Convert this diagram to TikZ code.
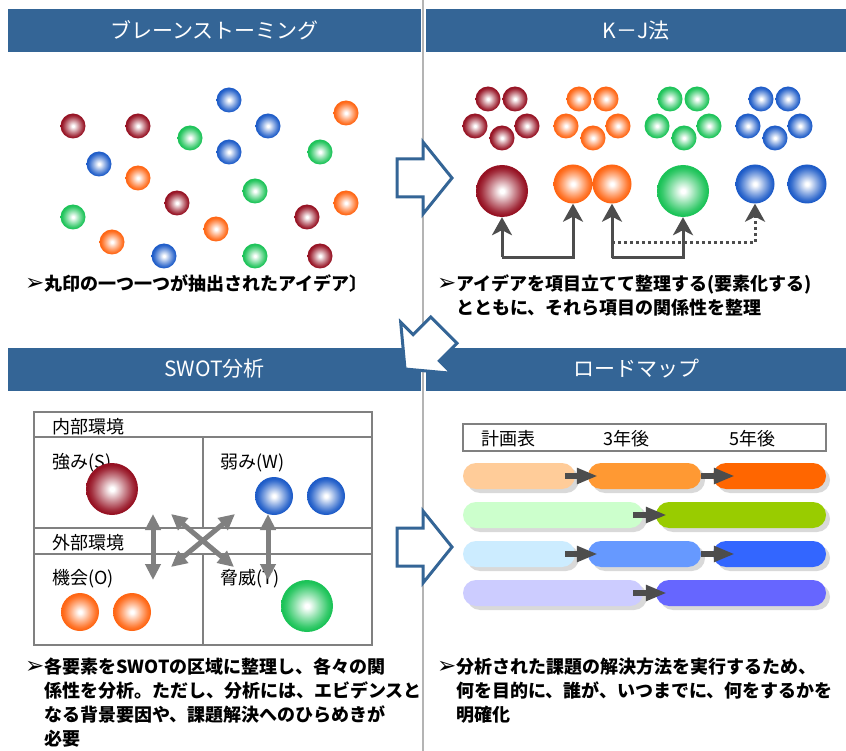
\documentclass[tikz,border=0pt]{standalone}
\usepackage{fontspec}
\newfontfamily\jp{Noto Sans CJK JP}
\newfontfamily\dv{DejaVu Sans}
\usetikzlibrary{arrows.meta,shadows}
\definecolor{hdrblue}{RGB}{52,101,150}
\definecolor{cred}{RGB}{150,18,35}
\definecolor{corange}{RGB}{255,102,20}
\definecolor{cgreen}{RGB}{28,195,88}
\definecolor{cblue}{RGB}{30,92,200}
\definecolor{darkarr}{RGB}{77,77,77}
\definecolor{midgray}{RGB}{128,128,128}
\definecolor{divgray}{RGB}{180,180,180}
\definecolor{rmpeach}{RGB}{255,204,153}
\definecolor{rmorange}{RGB}{255,153,51}
\definecolor{rmdorange}{RGB}{255,102,0}
\definecolor{rmlgreen}{RGB}{204,255,204}
\definecolor{rmgreen}{RGB}{153,204,0}
\definecolor{rmlblue}{RGB}{204,236,255}
\definecolor{rmblue}{RGB}{102,153,255}
\definecolor{rmdblue}{RGB}{51,102,255}
\definecolor{rmlviolet}{RGB}{204,204,255}
\definecolor{rmviolet}{RGB}{102,102,255}
\pgfdeclareradialshading{ballred}{\pgfpoint{0bp}{0bp}}{color(0bp)=(white); color(2bp)=(white); color(12bp)=(cred!50!white); color(20bp)=(cred!88!white); color(23.5bp)=(cred); color(100bp)=(cred)}
\pgfdeclareradialshading{ballorange}{\pgfpoint{0bp}{0bp}}{color(0bp)=(white); color(2bp)=(white); color(12bp)=(corange!50!white); color(20bp)=(corange!88!white); color(23.5bp)=(corange); color(100bp)=(corange)}
\pgfdeclareradialshading{ballgreen}{\pgfpoint{0bp}{0bp}}{color(0bp)=(white); color(2bp)=(white); color(12bp)=(cgreen!50!white); color(20bp)=(cgreen!88!white); color(23.5bp)=(cgreen); color(100bp)=(cgreen)}
\pgfdeclareradialshading{ballblue}{\pgfpoint{0bp}{0bp}}{color(0bp)=(white); color(2bp)=(white); color(12bp)=(cblue!50!white); color(20bp)=(cblue!88!white); color(23.5bp)=(cblue); color(100bp)=(cblue)}
\begin{document}
\begin{tikzpicture}[x=1pt,y=-1pt,
  ball/.style={circle, inner sep=0pt, shade, shading=ball#1},
  hdrbar/.style={fill=hdrblue, inner sep=0pt, minimum height=43pt, text=white, font=\jp\fontsize{21}{24}\selectfont},
  blockarrow/.style={draw=hdrblue, fill=white, line width=3pt, line join=miter},
  divider/.style={draw=divgray, line width=2.5pt},
  kjline/.style={draw=darkarr, line width=3pt},
  kjtip/.style={-{Stealth[length=18pt,width=20pt,inset=5pt]}},
  kjdots/.style={dash pattern=on 3pt off 3pt},
  tabline/.style={draw=midgray, line width=2pt},
  swarrow/.style={draw=midgray, line width=5pt, {Triangle[length=16pt,width=15pt]}-{Triangle[length=16pt,width=15pt]}},
  lbl/.style={inner sep=0pt, anchor=west, font=\jp\fontsize{18}{22}\selectfont},
  rmlbl/.style={inner sep=0pt, font=\jp\fontsize{18}{22}\selectfont},
  rmbar/.style={rectangle, rounded corners=13pt, minimum height=26pt, inner sep=0pt, general shadow={fill=black!15, shadow xshift=4pt, shadow yshift=-4pt}},
  rmarrow/.style={draw=darkarr, line width=6pt, -{Triangle[length=21pt,width=15pt]}},
  captext/.style={inner sep=0pt, anchor=base west, font=\jp\bfseries\fontsize{18}{24}\selectfont},
  capmark/.style={inner sep=0pt, anchor=base west, font=\dv\fontsize{23}{24}\selectfont}
]
\useasboundingbox[fill=white] (0,0) rectangle (846,751);

% divider
\draw[divider] (423,0) -- (423,751);

% header bars
\node[hdrbar, minimum width=413pt] (hb1) at (214.5,30.5) {ブレーンストーミング};
\node[hdrbar, minimum width=420pt] (hb2) at (636,30.5) {K－J法};
\node[hdrbar, minimum width=413pt] (hb3) at (214.5,369) {SWOT分析};
\node[hdrbar, minimum width=420pt] (hb4) at (636,369) {ロードマップ};

% brainstorming balls
\foreach \x/\y/\c [count=\i] in {73/126/red,138/126/red,190/138/green,229/100/blue,268/126/blue,346/113/orange,229/152/blue,99/164/blue,138/178/orange,320/152/green,255/191/green,177/203/red,73/217/green,346/203/orange,307/217/red,216/229/orange,112/242/orange,164/256/blue,255/256/green,320/256/red}
  \node[ball=\c, minimum size=25pt] (bs\i) at (\x,\y) {};

% K-J small balls
\foreach \dx/\c [count=\j] in {0/red,91/orange,182/green,273/blue}{
  \foreach \x/\y [count=\i] in {488/99,515/99,475/126,527/126,502/138}
    \node[ball=\c, minimum size=25pt] (ks\j\i) at (\x+\dx,\y) {};
}
% K-J big balls
\node[ball=red, minimum size=52pt] (kr) at (502,191) {};
\node[ball=orange, minimum size=39pt] (ko1) at (573,184) {};
\node[ball=orange, minimum size=39pt] (ko2) at (612,184) {};
\node[ball=green, minimum size=52pt] (kg) at (683,191) {};
\node[ball=blue, minimum size=39pt] (kb1) at (755,184) {};
\node[ball=blue, minimum size=39pt] (kb2) at (807,184) {};

% K-J connectors
\coordinate (kdot) at (612,243);
\draw[kjline, kjdots, kjtip] (kdot) -| (kb1.south);
\draw[kjline, kjtip] (kr.south) ++(0,40) -| (ko1.south);
\draw[kjline, kjtip] (kr.south) ++(0,40) -- (kr.south);
\draw[kjline, kjtip] (ko2.south) ++(0,54) -| (kg.south);
\draw[kjline, kjtip] (ko2.south) ++(0,54) -- (ko2.south);

% SWOT table
\draw[tabline] (34,412) rectangle (372,645);
\draw[tabline] (34,437) -- (372,437);
\draw[tabline] (34,528) -- (372,528);
\draw[tabline] (34,554) -- (372,554);
\draw[tabline] (203,437) -- (203,528);
\draw[tabline] (203,554) -- (203,645);
\node[lbl] (t1) at (52,427) {内部環境};
\node[lbl] (t2) at (52,463) {強み(S)};
\node[lbl] (t3) at (220,463) {弱み(W)};
\node[lbl] (t4) at (52,543) {外部環境};
\node[lbl] (t5) at (52,579) {機会(O)};
\node[lbl] (t6) at (220,579) {脅威(T)};
\node[ball=red, minimum size=52pt] (sS) at (112,489) {};
\node[ball=blue, minimum size=38pt] (sW1) at (274,496) {};
\node[ball=blue, minimum size=38pt] (sW2) at (326,496) {};
\node[ball=orange, minimum size=38pt] (sO1) at (80,612) {};
\node[ball=orange, minimum size=38pt] (sO2) at (132,612) {};
\node[ball=green, minimum size=52pt] (sT) at (307,606) {};
\coordinate (a1) at (153,514); \coordinate (a2) at (153,580);
\coordinate (a3) at (268,514); \coordinate (a4) at (268,580);
\coordinate (a5) at (171,514); \coordinate (a6) at (234,567);
\coordinate (a7) at (235,514); \coordinate (a8) at (171,567);
\draw[swarrow] (a1) -- (a2);
\draw[swarrow] (a3) -- (a4);
\draw[swarrow] (a5) -- (a6);
\draw[swarrow] (a7) -- (a8);

% roadmap
\node[draw=midgray, line width=2pt, minimum width=363pt, minimum height=27pt, inner sep=0pt] (rmh) at (644.5,437.5) {};
\node[rmlbl] (rl1) at (508,439) {計画表};
\node[rmlbl] (rl2) at (626,439) {3年後};
\node[rmlbl] (rl3) at (752,439) {5年後};

\node[rmbar, fill=rmpeach, minimum width=112pt] (r1a) at (519,476) {};
\node[rmbar, fill=rmorange, minimum width=113pt] (r1b) at (644.5,476) {};
\node[rmbar, fill=rmdorange, minimum width=113pt] (r1c) at (769.5,476) {};
\node[rmbar, fill=rmlgreen, minimum width=180pt] (r2a) at (553,515) {};
\node[rmbar, fill=rmgreen, minimum width=170pt] (r2b) at (741,515) {};
\node[rmbar, fill=rmlblue, minimum width=112pt] (r3a) at (519,554) {};
\node[rmbar, fill=rmblue, minimum width=113pt] (r3b) at (644.5,554) {};
\node[rmbar, fill=rmdblue, minimum width=113pt] (r3c) at (769.5,554) {};
\node[rmbar, fill=rmlviolet, minimum width=180pt] (r4a) at (553,593) {};
\node[rmbar, fill=rmviolet, minimum width=170pt] (r4b) at (741,593) {};

\draw[rmarrow] ([xshift=-10pt]r1a.east) -- ([xshift=10pt]r1b.west);
\draw[rmarrow] (r1b.east) -- ([xshift=22pt]r1c.west);
\draw[rmarrow] ([xshift=-10pt]r2a.east) -- ([xshift=11pt]r2b.west);
\draw[rmarrow] ([xshift=-10pt]r3a.east) -- ([xshift=10pt]r3b.west);
\draw[rmarrow] (r3b.east) -- ([xshift=22pt]r3c.west);
\draw[rmarrow] ([xshift=-10pt]r4a.east) -- ([xshift=11pt]r4b.west);

% block arrows
\draw[blockarrow] (397,159) -- (423,159) -- (423,142) -- (452,178) -- (423,214) -- (423,197) -- (397,197) -- cycle;
\draw[blockarrow] (397,528) -- (423,528) -- (423,511) -- (452,547) -- (423,583) -- (423,566) -- (397,566) -- cycle;
\draw[blockarrow] (405,369) -- (400.7,322.3) -- (413.1,334.7) -- (430.8,317.0) -- (457.0,343.2) -- (439.3,360.9) -- (451.7,373.3) -- cycle;

% captions
\node[capmark] (m1) at (25,291) {➢};
\node[captext] (c1) at (44,291) {丸印の一つ一つが抽出されたアイデア〕};
\node[capmark] (m2) at (437,291) {➢};
\node[captext] (c2) at (456,291) {アイデアを項目立てて整理する(要素化する)};
\node[captext] (c3) at (456,315) {とともに、それら項目の関係性を整理};
\node[capmark] (m3) at (25,673) {➢};
\node[captext] (c4) at (44,673) {各要素をSWOTの区域に整理し、各々の関};
\node[captext] (c5) at (44,697) {係性を分析。ただし、分析には、エビデンスと};
\node[captext] (c6) at (44,721) {なる背景要因や、課題解決へのひらめきが};
\node[captext] (c7) at (44,745) {必要};
\node[capmark] (m4) at (437,673) {➢};
\node[captext] (c8) at (456,673) {分析された課題の解決方法を実行するため、};
\node[captext] (c9) at (456,697) {何を目的に、誰が、いつまでに、何をするかを};
\node[captext] (c10) at (456,721) {明確化};
\end{tikzpicture}
\end{document}
